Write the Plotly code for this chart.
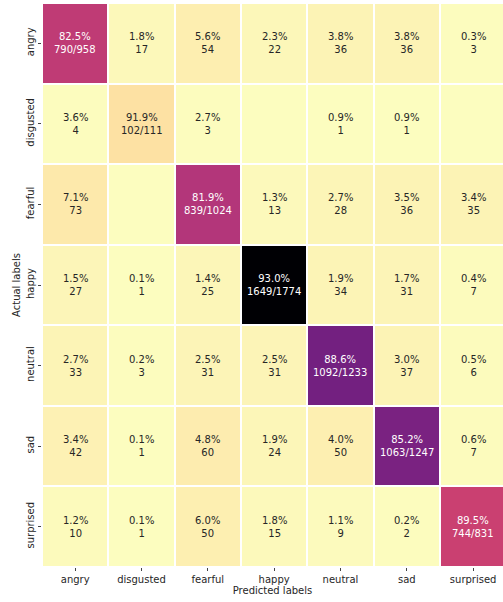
import plotly.graph_objects as go

labels = ["angry", "disgusted", "fearful", "happy", "neutral", "sad", "surprised"]

row_angry = [790, 17, 54, 22, 36, 36, 3]
row_disgusted = [4, 102, 3, 0, 1, 1, 0]
row_fearful = [73, 0, 839, 13, 28, 36, 35]
row_happy = [27, 1, 25, 1649, 34, 31, 7]
row_neutral = [33, 3, 31, 31, 1092, 37, 6]
row_sad = [42, 1, 60, 24, 50, 1063, 7]
row_surprised = [10, 1, 50, 15, 9, 2, 744]

counts = [row_angry, row_disgusted, row_fearful, row_happy, row_neutral, row_sad, row_surprised]

magma_stops = ["#000004", "#140e36", "#3b0f70", "#641a80", "#8c2981", "#b73779",
               "#de4968", "#f7705c", "#fe9f6d", "#fecf92", "#fcfdbf"]
magma_r = [[i / 10, c] for i, c in enumerate(reversed(magma_stops))]

vmax = max(max(r) for r in counts)

annotations = []
for i, row in enumerate(counts):
    total = sum(row)
    for j, v in enumerate(row):
        if v == 0:
            continue
        pct = 100.0 * v / total
        if i == j:
            txt = f"{pct:.1f}%<br>{v}/{total}"
        else:
            txt = f"{pct:.1f}%<br>{v}"
        color = "#ffffff" if v / vmax > 0.4 else "#262626"
        annotations.append(dict(x=labels[j], y=labels[i], text=txt, showarrow=False,
                                font=dict(size=10, color=color, family="DejaVu Sans")))

fig = go.Figure(go.Heatmap(
    z=counts, x=labels, y=labels,
    colorscale=magma_r, zmin=0, zmax=vmax,
    xgap=2, ygap=2, showscale=False, hoverinfo="skip",
))

fig.update_layout(
    width=503, height=602,
    margin=dict(l=42, r=0, t=3, b=35),
    paper_bgcolor="white", plot_bgcolor="white",
    font=dict(family="DejaVu Sans", size=10, color="#262626"),
    annotations=annotations,
    xaxis=dict(title=dict(text="Predicted labels", standoff=0, font=dict(size=10)),
               range=[-0.5, 6.45], showgrid=False, zeroline=False, automargin=False,
               ticks="outside", ticklen=3, tickwidth=0.8, tickcolor="#444",
               tickfont=dict(size=10)),
    yaxis=dict(title=dict(text="Actual labels", standoff=2, font=dict(size=10)),
               autorange="reversed", showgrid=False, zeroline=False, automargin=False,
               ticks="outside", ticklen=3, tickwidth=0.8, tickcolor="#444",
               tickangle=-90, tickfont=dict(size=10)),
)

fig.write_html("out.html", config={"displayModeBar": False},
               post_script="document.body.style.margin='0px';document.body.style.padding='0px';")
